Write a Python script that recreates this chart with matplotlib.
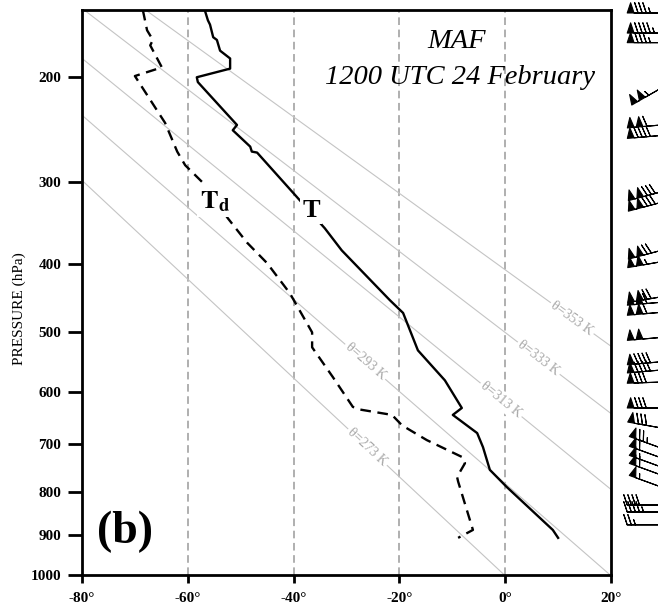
import numpy as np
import matplotlib
matplotlib.use('Agg')
import matplotlib.pyplot as plt

plt.rcParams['font.family'] = ['Liberation Serif', 'DejaVu Serif']
plt.rcParams['mathtext.fontset'] = 'stix'
plt.rcParams['axes.unicode_minus'] = False

KAPPA = 0.286

# temperature profile (hPa, deg C)
t_pres = [150, 157, 160, 169, 171, 179, 185, 193, 200, 204, 235, 242, 247, 263, 268,
          269, 312, 354, 382, 451, 470, 529, 580, 630, 643, 678, 706, 753, 790, 888, 907]
t_temp = [-56.8, -56.2, -55.8, -55.2, -54.5, -53.9, -52.0, -52.0, -58.3, -58.1, -52.0,
          -50.7, -51.5, -48.2, -47.9, -46.9, -40.1, -34.1, -30.9, -21.8, -19.3, -16.5,
          -11.4, -8.2, -9.9, -5.3, -4.2, -2.9, 0.3, 9.0, 10.0]

# dewpoint profile (hPa, deg C)
td_pres = [150, 164, 171, 175, 192, 199, 240, 268, 282, 300, 342, 372, 399, 441, 500,
           524, 574, 628, 633, 643, 663, 692, 727, 739, 768, 778, 888, 907]
td_temp = [-68.5, -67.7, -66.6, -67.1, -64.9, -70.0, -64.3, -62.0, -60.5, -57.3, -52.4,
           -48.8, -45.0, -40.7, -36.5, -36.5, -32.6, -28.8, -27.4, -21.4, -19.5, -14.8,
           -8.0, -7.6, -9.1, -8.9, -6.1, -8.9]

# winds (hPa, kt, deg)
wind_pres = [152, 166, 173, 209, 242, 252, 311, 323, 382, 397, 446, 454, 469, 508,
             548, 562, 583, 630, 668, 708, 728, 747, 764, 790, 830, 846, 876]
wind_spd = [85, 95, 85, 105, 110, 90, 130, 130, 120, 105, 120, 110, 110, 100,
            90, 90, 80, 80, 80, 75, 60, 55, 60, 55, 40, 45, 25]
wind_dir = [270, 270, 270, 240, 265, 265, 255, 255, 255, 260, 260, 265, 265, 265,
            265, 265, 268, 270, 280, 290, 290, 290, 290, 290, 270, 270, 270]

# dry adiabats and where their labels sit
theta_vals = [273, 293, 313, 333, 353]
theta_label_p = [706, 548, 615, 542, 478]

isotherms = [-60, -40, -20, 0]
p_ticks = [200, 300, 400, 500, 600, 700, 800, 900, 1000]
t_ticks = [-80, -60, -40, -20, 0, 20]

fig = plt.figure(figsize=(6.58, 6.07), dpi=100)
ax = fig.add_axes([82 / 658, 32 / 607, 529 / 658, 565 / 607])
ax.set_yscale('function', functions=(lambda p: np.power(np.clip(p, 1e-6, None), KAPPA),
                                     lambda q: np.power(np.clip(q, 1e-6, None), 1 / KAPPA)))
ax.set_xlim(-80, 20)
ax.set_ylim(1000, 150)

# isotherms
for t in isotherms:
    ax.axvline(t, color='#9a9a9a', lw=1.1, ls=(0, (5, 3)), zorder=1)

# dry adiabats
pp = np.linspace(150, 1000, 200)
for th, lp in zip(theta_vals, theta_label_p):
    tt = th * (pp / 1000.0) ** KAPPA - 273.15
    ax.plot(tt, pp, color='#c4c4c4', lw=0.8, zorder=1)
    tl = th * (lp / 1000.0) ** KAPPA - 273.15
    a = ax.transData.transform((th * ((lp - 20) / 1000.0) ** KAPPA - 273.15, lp - 20))
    b = ax.transData.transform((th * ((lp + 20) / 1000.0) ** KAPPA - 273.15, lp + 20))
    ang = np.degrees(np.arctan2(b[1] - a[1], b[0] - a[0]))
    ax.text(tl, lp, 'θ=%d K' % th, color='#a8a8a8', fontsize=10, rotation=ang,
            rotation_mode='anchor', ha='center', va='center', zorder=2,
            bbox=dict(facecolor='white', edgecolor='none', pad=1.5))

# soundings
ax.plot(t_temp, t_pres, color='black', lw=1.7, zorder=3)
ax.plot(td_temp, td_pres, color='black', lw=1.7, dashes=(4.5, 2.8), zorder=3)

ax.text(-54.8, 322, r'$\mathbf{T}_{\mathbf{d}}$', fontsize=19, ha='center', va='center',
        zorder=4, bbox=dict(facecolor='white', edgecolor='none', pad=2.5))
ax.text(-36.7, 332, 'T', fontsize=19, fontweight='bold', ha='center', va='center',
        zorder=4, bbox=dict(facecolor='white', edgecolor='none', pad=1.5))

# wind barbs, off the right side of the diagram
wd = np.deg2rad(wind_dir)
spd = np.array(wind_spd, dtype=float)
u = -spd * np.sin(wd)
v = -spd * np.cos(wd)
ax.barbs(np.full(len(wind_pres), 29.5), wind_pres, u, v, length=7,
         sizes=dict(spacing=0.12, height=0.3, width=0.2), linewidth=0.8,
         color='black', clip_on=False)

ax.set_xlim(-80, 20)
ax.set_ylim(1000, 150)

ax.set_yticks(p_ticks)
ax.set_yticklabels([str(p) for p in p_ticks], fontweight='bold', fontsize=11)
ax.set_xticks(t_ticks)
ax.set_xticklabels(['%d°' % t for t in t_ticks], fontweight='bold', fontsize=11)
ax.yaxis.set_minor_locator(matplotlib.ticker.NullLocator())
ax.tick_params(axis='y', direction='out', length=10, width=2, pad=5)
ax.tick_params(axis='x', direction='out', length=6, width=2, pad=6)
for s in ax.spines.values():
    s.set_linewidth(2)

fig.text(19 / 658, 1 - 309 / 607, 'PRESSURE (hPa)', rotation=90, ha='center',
         va='center', fontsize=11)
fig.text(457 / 658, 1 - 42 / 607, 'MAF', fontsize=20.5, style='italic', ha='center', va='center')
fig.text(460 / 658, 1 - 78 / 607, '1200 UTC 24 February', fontsize=20.5, style='italic',
         ha='center', va='center')
fig.text(125 / 658, 1 - 532 / 607, '(b)', fontsize=33, fontweight='bold', ha='center', va='center')

fig.savefig('out.png', dpi=100)
